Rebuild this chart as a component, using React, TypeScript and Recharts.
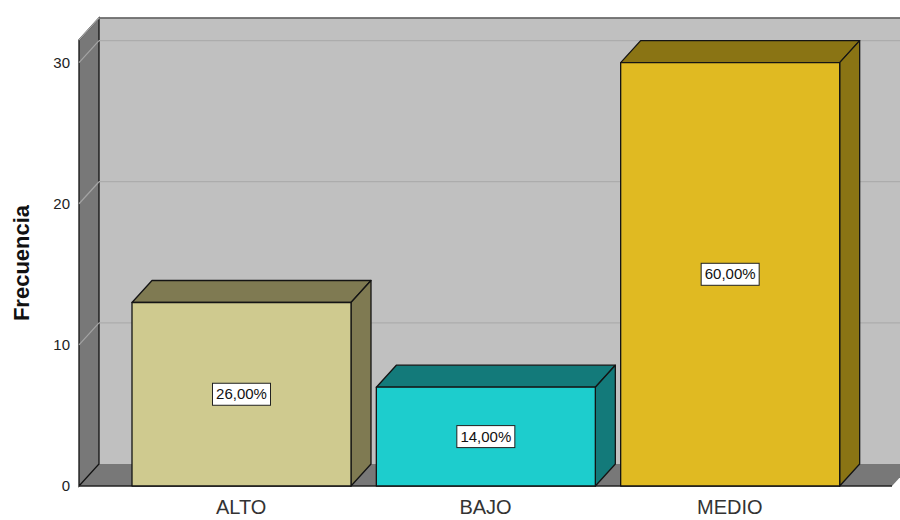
import { Bar, BarChart, CartesianGrid, LabelList, XAxis, YAxis } from "recharts";

const categories = ["ALTO", "BAJO", "MEDIO"];
const frecuencias = [13, 7, 30];
const frontColors = ["#CFCA8F", "#1DCDCD", "#E0BA22"];
const shadeColors = ["#7F7A52", "#137A7A", "#8A7414"];
const yTicks = [0, 10, 20, 30];
const yMax = 31.6;

const W = 900;
const H = 520;
const LEFT = 79;
const TOP = 40;
const RIGHT = 8;
const XAXIS_H = 34;
const BOTTOM = H - XAXIS_H;
const DX = 20;
const DY = -22;
const FONT = "'Liberation Sans', Arial, sans-serif";

const total = frecuencias.reduce((s, v) => s + v, 0);
const data = categories.map((name, i) => ({
  name,
  value: frecuencias[i],
  pct: ((frecuencias[i] / total) * 100).toFixed(2).replace(".", ",") + "%",
}));

function Walls() {
  const right = W - RIGHT;
  return (
    <svg width={W} height={H} style={{ position: "absolute", left: 0, top: 0 }}>
      <rect x={LEFT + DX} y={TOP + DY} width={W} height={BOTTOM - TOP} fill="#C0C0C0" />
      <polygon
        points={`${LEFT},${BOTTOM} ${LEFT + DX},${BOTTOM + DY} ${right + DX},${BOTTOM + DY} ${right},${BOTTOM}`}
        fill="#787878"
      />
      <line x1={LEFT} y1={BOTTOM} x2={LEFT + DX} y2={BOTTOM + DY} stroke="#9a9a9a" />
      <polygon
        points={`${LEFT},${TOP} ${LEFT + DX},${TOP + DY} ${LEFT + DX},${BOTTOM + DY} ${LEFT},${BOTTOM}`}
        fill="#787878"
        stroke="#111"
        strokeWidth={1.3}
      />
      <line x1={LEFT + DX} y1={TOP + DY} x2={W} y2={TOP + DY} stroke="#111" strokeWidth={1.5} />
      <line x1={LEFT} y1={BOTTOM} x2={right} y2={BOTTOM} stroke="#222" strokeWidth={1.3} />
    </svg>
  );
}

function GridLine(props: any) {
  const { x1, y1 } = props;
  if (y1 >= BOTTOM - 1) return <g />;
  return (
    <g>
      <line x1={x1} y1={y1} x2={x1 + DX} y2={y1 + DY} stroke="#A4A4A4" strokeWidth={1.2} />
      <line x1={x1 + DX} y1={y1 + DY} x2={W} y2={y1 + DY} stroke="#ACACAC" strokeWidth={1.2} />
    </g>
  );
}

function Bar3D(props: any) {
  const { x, y, width, height, index } = props;
  const front = frontColors[index % frontColors.length];
  const shade = shadeColors[index % shadeColors.length];
  const top = `${x},${y} ${x + DX},${y + DY} ${x + width + DX},${y + DY} ${x + width},${y}`;
  const side = `${x + width},${y} ${x + width + DX},${y + DY} ${x + width + DX},${y + height + DY} ${x + width},${y + height}`;
  return (
    <g stroke="#141414" strokeWidth={1.3} strokeLinejoin="round">
      <polygon points={top} fill={shade} />
      <polygon points={side} fill={shade} />
      <rect x={x} y={y} width={width} height={height} fill={front} />
    </g>
  );
}

function PctLabel(props: any) {
  const { x, y, width, height, value } = props;
  const cx = x + width / 2;
  const cy = y + height / 2;
  return (
    <g>
      <rect x={cx - 29} y={cy - 11} width={58} height={22} fill="#fff" stroke="#222" strokeWidth={1} />
      <text x={cx} y={cy + 5} textAnchor="middle" fontSize={15} fontFamily={FONT} fill="#111">
        {value}
      </text>
    </g>
  );
}

export default function App() {
  return (
    <div style={{ position: "absolute", left: 0, top: 0, width: W, height: H, background: "#fff" }}>
      <Walls />
      <div style={{ position: "absolute", left: 0, top: 0 }}>
        <BarChart width={W} height={H} data={data} margin={{ top: TOP, right: RIGHT, bottom: 0, left: 0 }}>
          <CartesianGrid vertical={false} horizontal={(p: any) => <GridLine key={p.key} {...p} />} />
          <XAxis
            dataKey="name"
            height={XAXIS_H}
            padding={{ left: 40, right: 40 }}
            axisLine={false}
            tickLine={false}
            tickSize={0}
            tickMargin={14}
            tick={{ fontSize: 20, fontFamily: FONT, fill: "#333" }}
          />
          <YAxis
            width={LEFT}
            domain={[0, yMax]}
            ticks={yTicks}
            axisLine={false}
            tickLine={false}
            tickSize={0}
            tickMargin={9}
            tick={{ fontSize: 15, fontFamily: FONT, fill: "#222" }}
            label={{
              value: "Frecuencia",
              angle: -90,
              position: "insideLeft",
              offset: 21,
              style: { fontSize: 22, fontWeight: "bold", fontFamily: FONT, fill: "#111", textAnchor: "middle" },
            }}
          />
          <Bar dataKey="value" barSize={219} shape={(p: any) => <Bar3D {...p} />} isAnimationActive={false}>
            <LabelList dataKey="pct" content={(p: any) => <PctLabel {...p} />} />
          </Bar>
        </BarChart>
      </div>
    </div>
  );
}
